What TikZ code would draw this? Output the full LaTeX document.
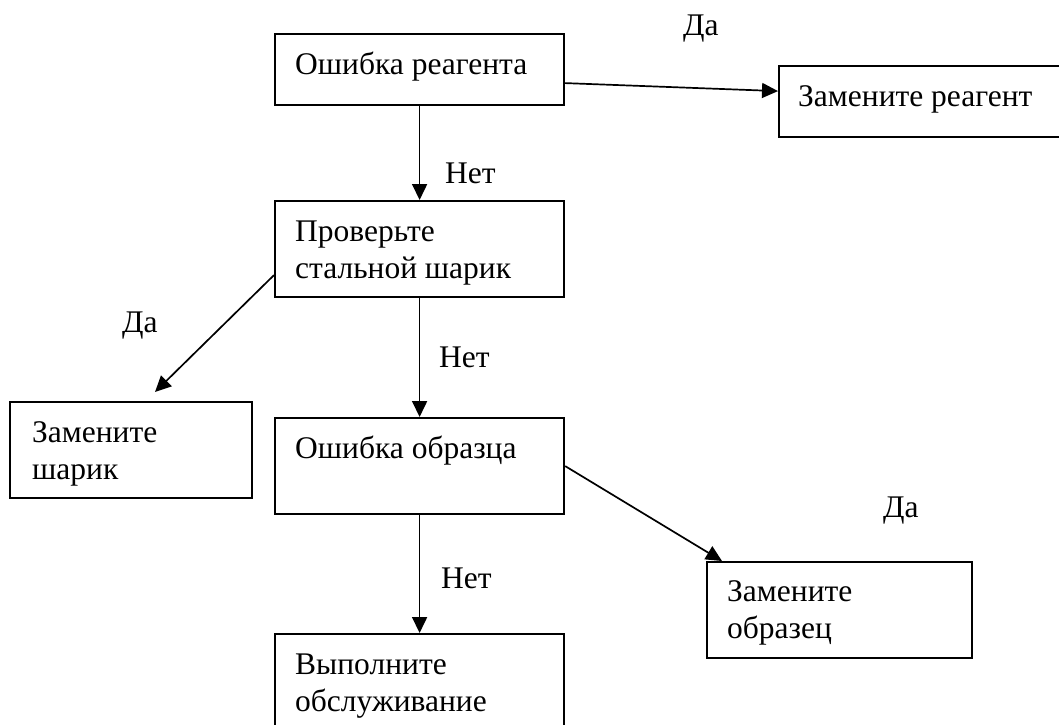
\documentclass[tikz,border=0pt]{standalone}
\usepackage{fontspec}
\setmainfont{Liberation Serif}
\usetikzlibrary{arrows.meta}
\tikzset{box/.style={draw,
                     line width=2.2pt,
                     inner sep=0pt,
                     anchor=north west}}
\tikzset{boxtext/.style={inner sep=0pt,anchor=base west,align=left,
                         font=\fontsize{31.5}{37}\selectfont}}
\tikzset{answer/.style={inner sep=0pt,anchor=base west,
                        font=\fontsize{31.5}{37}\selectfont}}
\tikzset{edge/.style={draw,
                      line width=1.7pt,
                      -{Triangle[length=16pt,width=15pt]}}}

\begin{document}
\begin{tikzpicture}[x=1pt,y=-1pt]
      \clip (0,0) rectangle (1059,724);

      % boxes
      \foreach \n/\x/\y/\w/\h in
      {
      reag/274/33/289/71,
      zreag/778/65/281/71,
      shar/274/200/289/96,
      zshar/9/401/242/96,
      obr/274/417/289/96,
      zobr/706/561/265/96,
      serv/274/633/289/96
      }
      {
      \node [box,minimum width=\w,minimum height=\h] (\n) at (\x,\y) {};
      }

      % box texts (base of the last line)
      \node [boxtext] (reag-t) at ([shift={(21,41)}]reag.north west) {Ошибка реагента};
      \node [boxtext] (zreag-t) at ([shift={(20,41)}]zreag.north west) {Замените реагент};
      \node [boxtext] (shar-t) at ([shift={(21,78)}]shar.north west) {Проверьте\\стальной шарик};
      \node [boxtext] (zshar-t) at ([shift={(23,78)}]zshar.north west) {Замените\\шарик};
      \node [boxtext] (obr-t) at ([shift={(21,41)}]obr.north west) {Ошибка образца};
      \node [boxtext] (zobr-t) at ([shift={(21,77)}]zobr.north west) {Замените\\образец};
      \node [boxtext] (serv-t) at ([shift={(21,78)}]serv.north west) {Выполните\\обслуживание};

      \coordinate (zshar-tip) at (155,392);

      % edges
      \path [edge] ([yshift=-13.5pt]reag.east) -- ([yshift=10.5pt]zreag.west);
      \path [edge] (reag) -- (shar);
      \path [edge] ([yshift=-26pt]shar.west) -- (zshar-tip);
      \path [edge] (shar) -- (obr);
      \path [edge] (obr.east) -- ([xshift=16pt]zobr.north west);
      \path [edge] (obr) -- (serv);

      % answers
      \node [answer] (da1) at (683,35) {Да};
      \node [answer] (net1) at (445,183) {Нет};
      \node [answer] (da2) at (122,332) {Да};
      \node [answer] (net2) at (439,367) {Нет};
      \node [answer] (da3) at (883,517) {Да};
      \node [answer] (net3) at (441,588) {Нет};

    \end{tikzpicture}
\end{document}
